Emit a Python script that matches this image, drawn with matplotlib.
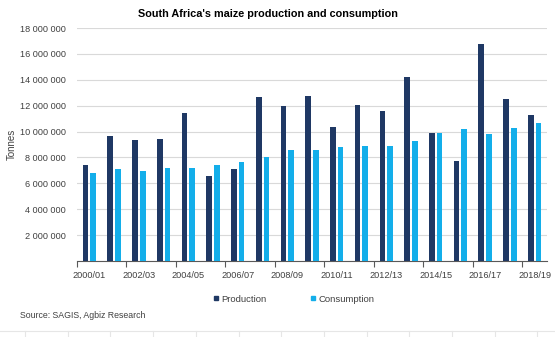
import matplotlib
matplotlib.use("Agg")
import matplotlib.pyplot as plt
import numpy as np
from matplotlib.lines import Line2D

seasons = ["2000/01", "2001/02", "2002/03", "2003/04", "2004/05", "2005/06", "2006/07",
           "2007/08", "2008/09", "2009/10", "2010/11", "2011/12", "2012/13", "2013/14",
           "2014/15", "2015/16", "2016/17", "2017/18", "2018/19"]
production = [7.42, 9.66, 9.33, 9.43, 11.41, 6.57, 7.08, 12.65, 11.98, 12.75, 10.33,
              12.06, 11.62, 14.19, 9.92, 7.75, 16.80, 12.50, 11.25]
consumption = [6.82, 7.08, 6.95, 7.19, 7.19, 7.42, 7.63, 8.01, 8.58, 8.60, 8.81,
               8.89, 8.89, 9.30, 9.87, 10.20, 9.79, 10.25, 10.64]
production = [v * 1e6 for v in production]
consumption = [v * 1e6 for v in consumption]
yticks = [0, 2e6, 4e6, 6e6, 8e6, 10e6, 12e6, 14e6, 16e6, 18e6]

plt.rcParams['font.family'] = ['Liberation Sans', 'DejaVu Sans']

fig = plt.figure(figsize=(5.55, 3.37), dpi=100)
ax = fig.add_axes([0.1387, 0.2255, 0.9856 - 0.1387, 0.9169 - 0.2255])

x = np.arange(len(seasons))
w = 0.23
c_prod = '#1f3864'
c_cons = '#13aeea'
ax.bar(x - 0.155, production, width=w, color=c_prod, zorder=3, label='Production')
ax.bar(x + 0.155, consumption, width=w, color=c_cons, zorder=3, label='Consumption')

ax.set_xlim(-0.5, len(seasons) - 0.5)
ax.set_ylim(0, 18e6)
ax.set_yticks(yticks)
ax.set_yticklabels(['' if v == 0 else f"{int(v):,}".replace(",", " ") for v in yticks])
ax.yaxis.grid(True, color='#d9d9d9', linewidth=0.8, zorder=0)
ax.tick_params(axis='y', length=0, pad=8, labelsize=6.6, labelcolor='#404040')

ax.set_xticks(np.arange(-0.5, len(seasons), 2))
ax.set_xticklabels([])
ax.set_xticks(x[::2], minor=True)
ax.set_xticklabels([seasons[i] for i in x[::2]], minor=True)
ax.tick_params(axis='x', which='major', length=4, color='#595959', width=0.8)
ax.tick_params(axis='x', which='minor', length=0, pad=7, labelsize=6.6, labelcolor='#404040')

for s in ['top', 'right', 'left']:
    ax.spines[s].set_visible(False)
ax.spines['bottom'].set_color('#595959')
ax.spines['bottom'].set_linewidth(0.8)

ax.set_ylabel('Tonnes', fontsize=7, color='#404040')
ax.yaxis.set_label_coords(-0.128, 0.5)

fig.text(268 / 555, 1 - 14 / 337, "South Africa's maize production and consumption",
         ha='center', va='center', fontsize=7.8, fontweight='bold', color='black')

handles = [Line2D([], [], marker='s', linestyle='none', markersize=3.5, color=c_prod),
           Line2D([], [], marker='s', linestyle='none', markersize=3.5, color=c_cons)]
fig.legend(handles, ['Production', 'Consumption'], loc='center left',
           bbox_to_anchor=(213 / 555, 1 - 299 / 337), ncol=2, frameon=False, fontsize=6.8,
           handlelength=0.6, handletextpad=0.3, columnspacing=4.6, labelcolor='#404040',
           borderpad=0, borderaxespad=0)

fig.text(20 / 555, 1 - 315 / 337, "Source: SAGIS, Agbiz Research", ha='left', va='center',
         fontsize=6.3, color='#404040')

fig.add_artist(Line2D([0, 1], [1 - 331 / 337] * 2, color='#e6e6e6', linewidth=0.8))
for xp in np.arange(25, 555, 42.7):
    fig.add_artist(Line2D([xp / 555] * 2, [0, 1 - 331 / 337], color='#e6e6e6', linewidth=0.8))

fig.savefig('out.png', dpi=100)
